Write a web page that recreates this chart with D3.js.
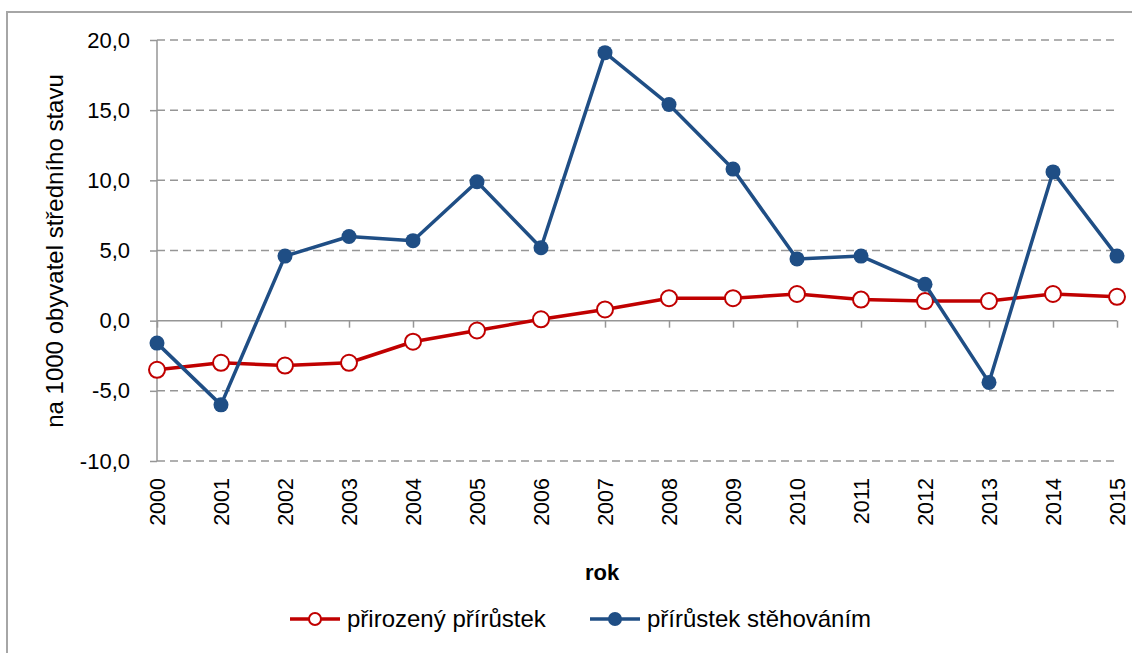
<!DOCTYPE html>
<html>
  <head>
    <meta charset="utf-8">
    <title>Přírůstek obyvatel</title>
    <script src="https://cdnjs.cloudflare.com/ajax/libs/d3/7.8.5/d3.min.js"></script>
    <style>
      body { margin: 0; background: #fff; }
      text { font-family: "Liberation Sans", Arial, sans-serif; fill: #000; }
    </style>
  </head>
  <body>
    <div id="vis"></div>
    <script>
      // data
      var years = [2000, 2001, 2002, 2003, 2004, 2005, 2006, 2007,
                   2008, 2009, 2010, 2011, 2012, 2013, 2014, 2015]
      var prirozeny = [-3.5, -3.0, -3.2, -3.0, -1.5, -0.7, 0.1, 0.8,
                       1.6, 1.6, 1.9, 1.5, 1.4, 1.4, 1.9, 1.7]
      var stehovanim = [-1.6, -6.0, 4.6, 6.0, 5.7, 9.9, 5.2, 19.1,
                        15.4, 10.8, 4.4, 4.6, 2.6, -4.4, 10.6, 4.6]
      var yTicks = [-10, -5, 0, 5, 10, 15, 20]
      var seriesNames = ['přirozený přírůstek', 'přírůstek stěhováním']

      var W = 1132, H = 653
      var pLeft = 157, pRight = 1117, pTop = 40, pBottom = 461
      var red = '#c00000', blue = '#1f4e85', grey = '#969696'

      var loc = d3.formatLocale({decimal: ',', thousands: ' ', grouping: [3], currency: ['', ''], minus: '-'})
      var fmt = loc.format('.1f')

      var x = d3.scalePoint().domain(years).range([pLeft, pRight])
      var y = d3.scaleLinear().domain([-10, 20]).range([pBottom, pTop])

      var svg = d3.select('#vis').append('svg')
        .attr('width', W).attr('height', H)

      // outer frame (runs off the right and bottom edge)
      svg.append('rect')
        .attr('x', 7).attr('y', 12).attr('width', W + 20).attr('height', H + 20)
        .attr('fill', 'none').attr('stroke', '#a6a6a6').attr('stroke-width', 2)

      // dashed grid
      svg.selectAll('line.grid').data(yTicks.filter(function(d){ return d !== 0; })).enter()
        .append('line')
        .attr('class', 'grid')
        .attr('x1', pLeft).attr('x2', pRight)
        .attr('y1', function(d){ return y(d); }).attr('y2', function(d){ return y(d); })
        .attr('stroke', grey).attr('stroke-width', 1.5)
        .attr('stroke-dasharray', '8,5')

      // y axis
      var yAxis = svg.append('g')
        .attr('transform', 'translate(' + pLeft + ',0)')
        .call(d3.axisLeft(y).tickValues(yTicks).tickSize(7).tickPadding(20).tickFormat(fmt))
      yAxis.selectAll('path, line').attr('stroke', grey).attr('stroke-width', 1.5)
      yAxis.select('.domain').attr('d', 'M0,' + pTop + 'V' + pBottom)
      yAxis.selectAll('text').attr('font-size', 22).attr('fill', '#000')
        .style('font-family', '"Liberation Sans", Arial, sans-serif')

      // x axis through zero, labels at the bottom
      var xAxis = svg.append('g')
        .attr('transform', 'translate(0,' + y(0) + ')')
        .call(d3.axisBottom(x).tickSize(7).tickFormat(''))
      xAxis.selectAll('path, line').attr('stroke', grey).attr('stroke-width', 1.5)
      xAxis.select('.domain').attr('d', 'M' + pLeft + ',0H' + pRight)

      svg.selectAll('text.year').data(years).enter()
        .append('text')
        .attr('class', 'year')
        .attr('font-size', 21.5)
        .attr('text-anchor', 'end')
        .attr('transform', function(d){ return 'translate(' + (x(d) + 7.5) + ',478) rotate(-90)'; })
        .text(function(d){ return d; })

      // axis titles
      svg.append('text')
        .attr('font-size', 24)
        .attr('text-anchor', 'middle')
        .attr('transform', 'translate(63,251) rotate(-90)')
        .text('na 1000 obyvatel středního stavu')

      svg.append('text')
        .attr('x', 602).attr('y', 580)
        .attr('font-size', 22).attr('font-weight', 'bold')
        .attr('text-anchor', 'middle')
        .text('rok')

      // series
      var line = d3.line()
        .x(function(d, i){ return x(years[i]); })
        .y(function(d){ return y(d); })

      svg.append('path').datum(prirozeny)
        .attr('d', line)
        .attr('fill', 'none').attr('stroke', red).attr('stroke-width', 3.5)
        .attr('stroke-linejoin', 'round')
      svg.selectAll('circle.prir').data(prirozeny).enter()
        .append('circle')
        .attr('class', 'prir')
        .attr('cx', function(d, i){ return x(years[i]); })
        .attr('cy', function(d){ return y(d); })
        .attr('r', 8)
        .attr('fill', '#fff').attr('stroke', red).attr('stroke-width', 2)

      svg.append('path').datum(stehovanim)
        .attr('d', line)
        .attr('fill', 'none').attr('stroke', blue).attr('stroke-width', 3.5)
        .attr('stroke-linejoin', 'round')
      svg.selectAll('circle.steh').data(stehovanim).enter()
        .append('circle')
        .attr('class', 'steh')
        .attr('cx', function(d, i){ return x(years[i]); })
        .attr('cy', function(d){ return y(d); })
        .attr('r', 7.5)
        .attr('fill', blue)

      // legend
      var legend = [
        {name: seriesNames[0], color: red, open: true, x: 290},
        {name: seriesNames[1], color: blue, open: false, x: 590}
      ]
      var lg = svg.selectAll('g.legend').data(legend).enter()
        .append('g').attr('class', 'legend')
        .attr('transform', function(d){ return 'translate(' + d.x + ',619)'; })
      lg.append('line')
        .attr('x1', 0).attr('x2', 50)
        .attr('stroke', function(d){ return d.color; }).attr('stroke-width', 3.5)
      lg.append('circle')
        .attr('cx', 25).attr('r', 6)
        .attr('fill', function(d){ return d.open ? '#fff' : d.color; })
        .attr('stroke', function(d){ return d.color; }).attr('stroke-width', 2)
      lg.append('text')
        .attr('x', 57).attr('y', 8)
        .attr('font-size', 24)
        .text(function(d){ return d.name; })
    </script>
  </body>
</html>
